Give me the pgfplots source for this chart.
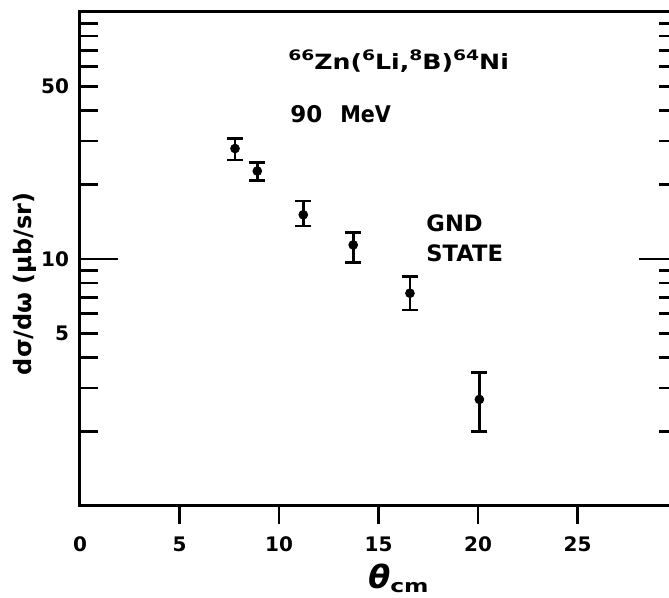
\documentclass[border=0pt]{standalone}
\usepackage{pgfplots}
\pgfplotsset{compat=1.18}
\usepackage{fontspec}
\setmainfont{DejaVu Sans}

% ground state cross sections, 66Zn(6Li,8B)64Ni at 90 MeV
% x  y  err+  err-
\pgfplotstableread{
x      y      ep    em
7.79   28.0   2.7   2.8
8.91   22.7   1.9   1.9
11.22  15.1   2.1   1.5
13.73  11.4   1.4   1.7
16.58  7.27   1.24  1.05
20.07  2.70   0.77  0.70
}\gndstate

\newcommand{\iso}[1]{\raisebox{4.5pt}{\scalebox{1.3}[1]{\fontsize{7.2}{9}\selectfont #1}}}
\newcommand{\wide}[1]{\scalebox{1.2}[1]{#1}}

\begin{document}
\begin{tikzpicture}
\begin{axis}[
    scale only axis,
    width=298.5pt, height=247pt,
    xmin=0, xmax=30,
    ymode=log, ymin=1, ymax=100,
    separate axis lines,
    axis line style={line width=1.5pt, line cap=rect},
    every tick/.style={black, line width=1.3pt},
    xtick align=outside, ytick align=inside,
    xtick pos=bottom, ytick pos=both, yticklabel pos=left,
    xtick={0,5,...,25},
    xticklabels={0,5,10,15,20,25},
    major x tick style={draw=none},
    minor xtick={5,10,15,20,25},
    ytick={10}, yticklabels={10},
    minor ytick={2,3,4,5,6,7,8,9,20,30,40,50,60,70,80,90},
    extra y ticks={5,50}, extra y tick labels={5,50},
    extra y tick style={tick style={draw=none}},
    major tick length=19pt, minor tick length=9pt,
    /pgf/number format/assume math mode=true,
    ticklabel style={font=\bfseries\fontsize{10}{12}\selectfont},
    xticklabel style={anchor=base, yshift=-4pt},
    yticklabel style={xshift=-2pt},
    clip=false,
]
\addplot[black, only marks, mark=*, mark size=2.2pt,
    error bars/.cd, y dir=both, y explicit,
    error bar style={line width=1.3pt},
    error mark options={rotate=90, line width=1.3pt, mark size=4pt}]
    table[x=x, y=y, y error plus=ep, y error minus=em] {\gndstate};

\begin{scope}[every node/.style={anchor=base west, inner sep=0pt, font=\bfseries\fontsize{10.5}{12}\selectfont}]
\node at (axis cs:10.45,58.7)
    {\iso{66}\wide{Zn(}\iso{6}\wide{Li,}\iso{8}\wide{B)}\iso{64}\wide{Ni}};
\node[font=\bfseries\fontsize{11.5}{13}\selectfont] at (axis cs:10.55,35.7)
    {90\hspace{9pt}\scalebox{0.9}[1]{MeV}};
\node[font=\bfseries\fontsize{11.3}{13}\selectfont] at (axis cs:17.39,12.9) {GND};
\node[font=\bfseries\fontsize{11.3}{13}\selectfont] at (axis cs:17.39,9.81) {STATE};
\end{scope}

\node[rotate=90, font=\bfseries\fontsize{12}{14}\selectfont]
    at ([xshift=-27.5pt]axis description cs:0,0.45) {dσ/dω (μb/sr)};
\node[anchor=base west, inner sep=0pt] at ([yshift=-41.5pt]axis cs:14.47,1)
    {\fontsize{16}{18}\selectfont\bfseries\itshape θ\raisebox{-1.8pt}{\scalebox{1.3}[1]{\upshape\bfseries\fontsize{9}{11}\selectfont cm}}};
\end{axis}
\pgfresetboundingbox
\useasboundingbox (-40pt,-46pt) rectangle (294.5pt,253pt);
\end{tikzpicture}
\end{document}
